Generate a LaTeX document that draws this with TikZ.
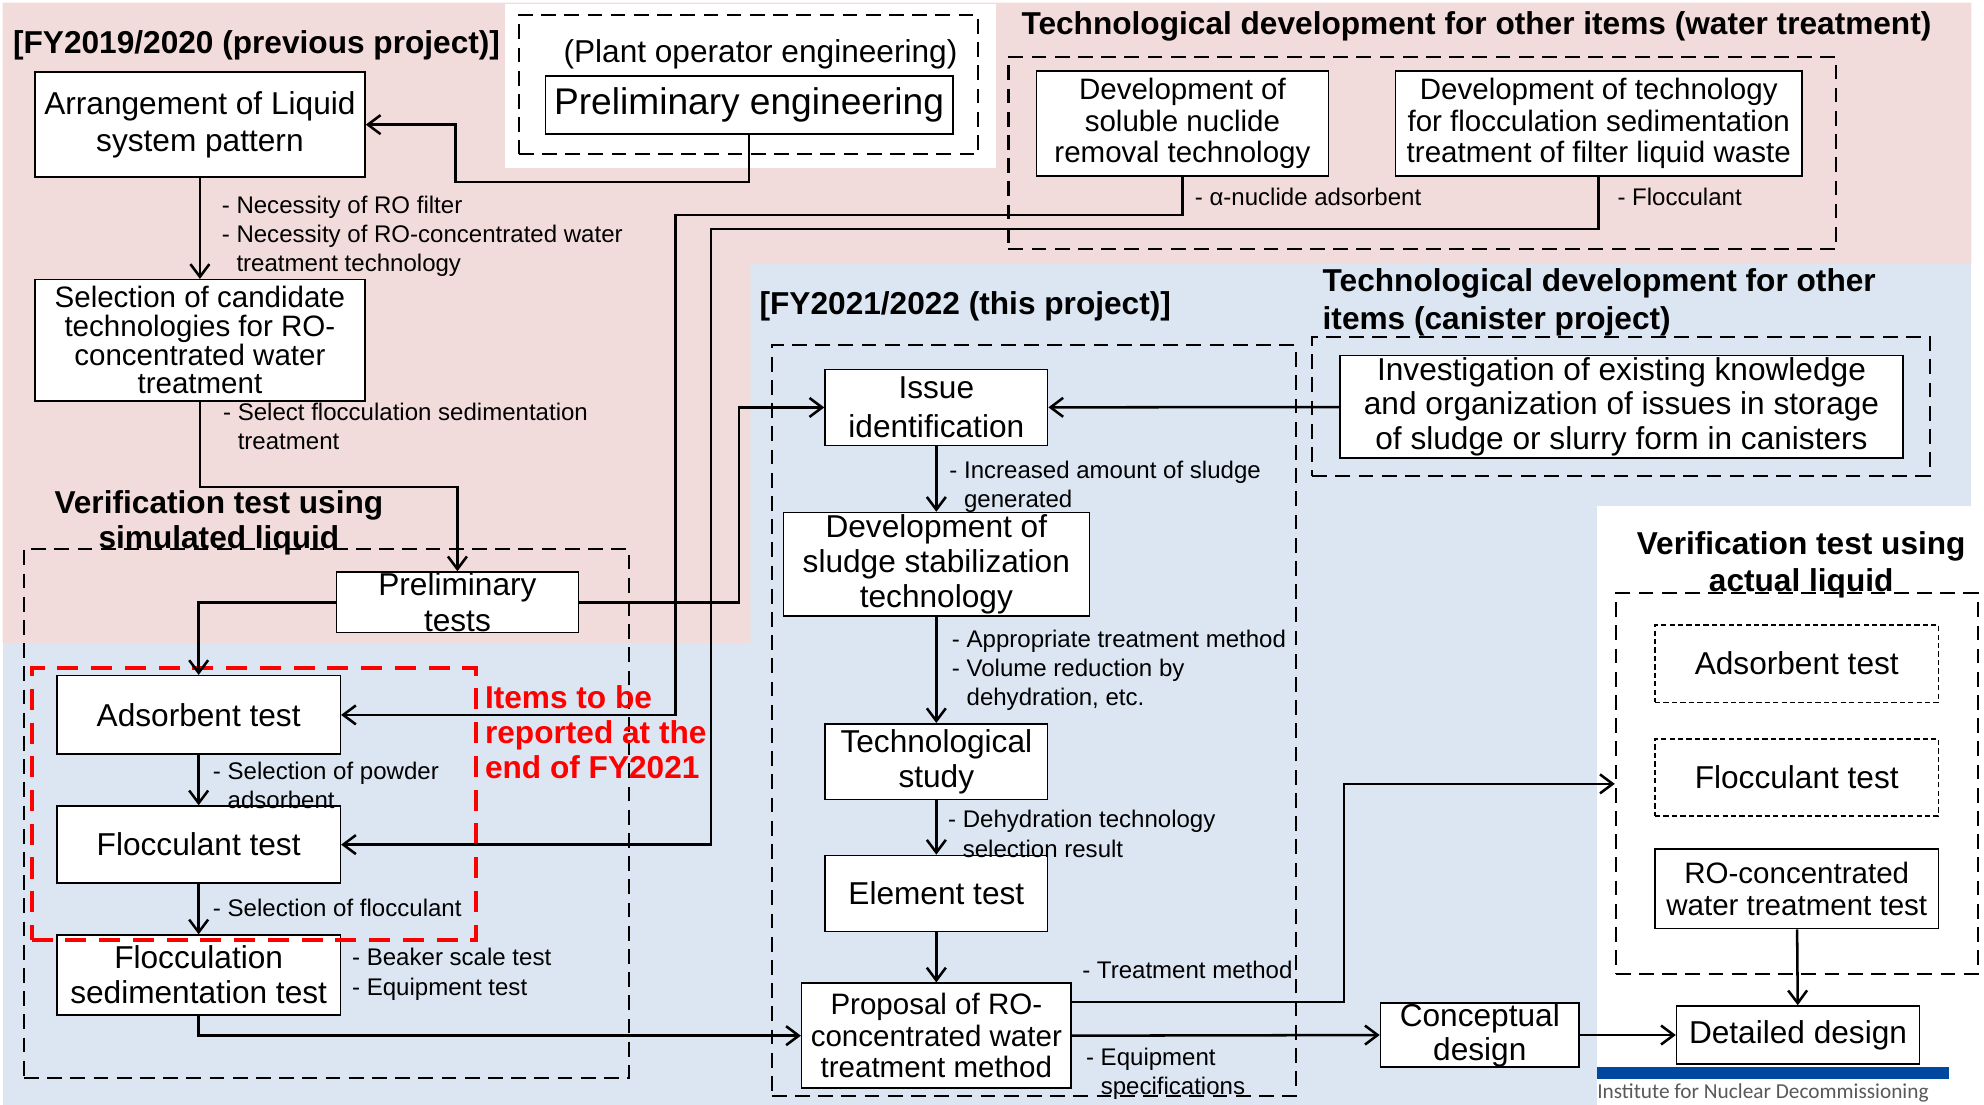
\documentclass[tikz,border=0pt]{standalone}
\usepackage{fontspec}
\setmainfont{Liberation Sans}
\newfontfamily\logofont{Carlito}
\usetikzlibrary{arrows.meta}

\definecolor{pinkbg}{RGB}{242,220,219}
\definecolor{bluebg}{RGB}{220,230,242}
\definecolor{logoblue}{RGB}{0,71,160}

\tikzset{
  box/.style={draw, line width=0.7pt, fill=white, inner sep=0pt, align=center, font=\fontsize{15}{16.8}\selectfont},
  dotbox/.style={box, dash pattern=on 2.5pt off 1.5pt},
  grp/.style={draw, line width=1pt, dash pattern=on 7pt off 4pt, inner sep=0pt},
  redgrp/.style={draw=red, line width=1.8pt, dash pattern=on 10pt off 6pt, inner sep=0pt},
  ann/.style={anchor=west, align=left, inner sep=0pt, yshift=-1.5pt, font=\fontsize{11.4}{13.8}\selectfont},
  ttl/.style={inner sep=0pt, yshift=-1.2pt, font=\bfseries\fontsize{15}{16.8}\selectfont},
  flow/.style={line width=1.2pt, -{Straight Barb[length=6pt,width=9pt]}},
}

\begin{document}
\begin{tikzpicture}[x=0.6pt, y=-0.6pt]
\useasboundingbox (0,0) rectangle (1568,873);

\fill[bluebg] (2,208) rectangle (1558,873);
\fill[pinkbg] (2,2) -- (1558,2) -- (1558,208) -- (593,208) -- (593,508) -- (2,508) -- cycle;
\fill[white] (399,3) rectangle (787,133);
\fill[white] (1262,400) rectangle (1561,873);
\fill[logoblue] (1262,843) rectangle (1540,853);
\node[anchor=west, inner sep=0pt, text=black!65, font=\logofont\fontsize{10.1}{12}\selectfont] (inst) at (1262,864) {Institute for Nuclear Decommissioning};

\node[grp, minimum width=217.8pt, minimum height=66pt] (plantgrp) at (591.5,67) {};
\node[grp, minimum width=392.4pt, minimum height=91.2pt] (watergrp) at (1124,121) {};
\node[grp, minimum width=286.8pt, minimum height=250.8pt] (simgrp) at (258,643) {};
\node[grp, minimum width=248.4pt, minimum height=355.8pt] (thisgrp) at (817,569.5) {};
\node[grp, minimum width=292.8pt, minimum height=66pt] (canigrp) at (1281,321) {};
\node[grp, minimum width=171.6pt, minimum height=180.6pt] (realgrp) at (1420,619.5) {};

\node[ttl, anchor=west] (prevttl) at (10,34) {[FY2019/2020 (previous project)]};
\node[inner sep=0pt, yshift=-1.2pt, font=\fontsize{15}{16.8}\selectfont] (plantlbl) at (601,41) {(Plant operator engineering)};
\node[box, font=\fontsize{17.6}{20}\selectfont, minimum width=193.2pt, minimum height=27.6pt] (prelimeng) at (592,83) {Preliminary engineering};
\node[box, font=\fontsize{15}{17.4}\selectfont, minimum width=156.6pt, minimum height=49.8pt] (arrange) at (158,98.5) {Arrangement of Liquid\\system pattern};
\node[box, font=\fontsize{14}{13.6}\selectfont, minimum width=156.6pt, minimum height=57.6pt] (select) at (158,269) {Selection of candidate\\technologies for RO-\\concentrated water\\treatment};
\node[ttl, align=center] (simttl) at (173,411) {Verification test using\\simulated liquid};
\node[box, font=\fontsize{15}{17.4}\selectfont, minimum width=114.6pt, minimum height=28.8pt] (pretest) at (361.5,476) {Preliminary\\tests};
\node[box, minimum width=134.4pt, minimum height=37.2pt] (adstest) at (157,565) {Adsorbent test};
\node[box, minimum width=134.4pt, minimum height=36.6pt] (floctest) at (157,667.5) {Flocculant test};
\node[box, minimum width=134.4pt, minimum height=37.8pt] (sedtest) at (157,770.5) {Flocculation\\sedimentation test};
\node[redgrp, minimum width=210.6pt, minimum height=129pt] (redbox) at (200.5,635.5) {};
\node[anchor=west, align=left, inner sep=0pt, yshift=-1.2pt, text=red, font=\bfseries\fontsize{15}{16.5}\selectfont] (redttl) at (383,576.5) {Items to be\\reported at the\\end of FY2021};

\node[ttl, anchor=west] (thisttl) at (600,240) {[FY2021/2022 (this project)]};
\node[box, font=\fontsize{15}{18.6}\selectfont, minimum width=105.6pt, minimum height=36pt] (issue) at (740,322) {Issue\\identification};
\node[box, font=\fontsize{15}{16.5}\selectfont, minimum width=145.2pt, minimum height=49.2pt] (sludge) at (740,446) {Development of\\sludge stabilization\\technology};
\node[box, minimum width=105.6pt, minimum height=36pt] (study) at (740,602) {Technological\\study};
\node[box, minimum width=105.6pt, minimum height=36pt] (element) at (740,706) {Element test};
\node[box, font=\fontsize{14}{15}\selectfont, minimum width=127.8pt, minimum height=49.8pt] (proposal) at (740,818.5) {Proposal of RO-\\concentrated water\\treatment method};
\node[box, font=\fontsize{15}{16.2}\selectfont, minimum width=94.2pt, minimum height=27.6pt] (concept) at (1169.5,818) {Conceptual\\design};
\node[box, minimum width=115.2pt, minimum height=27.6pt] (detail) at (1421,818) {Detailed design};

\node[ttl, align=center, font=\bfseries\fontsize{15}{17.4}\selectfont] (realttl) at (1423.5,444.5) {Verification test using\\actual liquid};
\node[dotbox, minimum width=134.4pt, minimum height=36.6pt] (realads) at (1420,524.5) {Adsorbent test};
\node[dotbox, minimum width=134.4pt, minimum height=36.6pt] (realfloc) at (1420,614.5) {Flocculant test};
\node[box, font=\fontsize{14}{15}\selectfont, minimum width=134.4pt, minimum height=37.8pt] (realro) at (1420,702.5) {RO-concentrated\\water treatment test};

\node[ttl, anchor=west] (waterttl) at (807,19) {Technological development for other items (water treatment)};
\node[box, font=\fontsize{14}{15}\selectfont, minimum width=138.6pt, minimum height=49.8pt] (nuclide) at (934.5,97.5) {Development of\\soluble nuclide\\removal technology};
\node[box, font=\fontsize{14}{15}\selectfont, minimum width=192.6pt, minimum height=49.8pt] (flocdev) at (1263.5,97.5) {Development of technology\\for flocculation sedimentation\\treatment of filter liquid waste};
\node[ttl, anchor=west, align=left, font=\bfseries\fontsize{15}{18}\selectfont] (canittl) at (1045,237) {Technological development for other\\items (canister project)};
\node[box, font=\fontsize{15}{16.2}\selectfont, minimum width=267pt, minimum height=48.6pt] (canister) at (1281.5,321.5) {Investigation of existing knowledge\\and organization of issues in storage\\of sludge or slurry form in canisters};

\node[ann] (annro) at (175,184) {- Necessity of RO filter\\- Necessity of RO-concentrated water\\\phantom{- }treatment technology};
\node[ann] (annsel) at (176,334.5) {- Select flocculation sedimentation\\\phantom{- }treatment};
\node[ann] (annpow) at (168,618.5) {- Selection of powder\\\phantom{- }adsorbent};
\node[ann] (annfloc) at (168,715) {- Selection of flocculant};
\node[ann] (annbeak) at (278,767.5) {- Beaker scale test\\- Equipment test};
\node[ann] (annalpha) at (944,153) {- α-nuclide adsorbent};
\node[ann] (annflocc) at (1278,153) {- Flocculant};
\node[ann] (annsludge) at (750,382.5) {- Increased amount of sludge\\\phantom{- }generated};
\node[ann] (annmeth) at (752,527) {- Appropriate treatment method\\- Volume reduction by\\\phantom{- }dehydration, etc.};
\node[ann] (anndehy) at (749,656.5) {- Dehydration technology\\\phantom{- }selection result};
\node[ann] (anntreat) at (855,764) {- Treatment method};
\node[ann] (annequip) at (858,846) {- Equipment\\\phantom{- }specifications};

\coordinate (k1) at (360,144);
\coordinate (k2) at (361.5,385);
\coordinate (k3) at (584,322);
\coordinate (k4) at (534,170);
\coordinate (k5) at (562,181);
\coordinate (k6) at (1062,792);

\draw[flow] (prelimeng.south) |- (k1) |- (arrange.east);
\draw[flow] (arrange.south) -- (select.north);
\draw[flow] (select.south) |- (k2) -- (pretest.north);
\draw[flow] (pretest.west) -| (adstest.north);
\draw[flow] (pretest.east) -| (k3) -- (issue.west);
\draw[flow] (nuclide.south) |- (k4) |- (adstest.east);
\draw[flow] (flocdev.south) |- (k5) |- (floctest.east);
\draw[flow] (adstest) -- (floctest);
\draw[flow] (floctest) -- (sedtest);
\draw[flow] (sedtest.south) |- (proposal.west);
\draw[flow] (canister) -- (issue);
\draw[flow] (issue) -- (sludge);
\draw[flow] (sludge) -- (study);
\draw[flow] (study) -- (element);
\draw[flow] (element) -- (proposal);
\draw[flow] (proposal.east |- k6) -- (k6) |- (realgrp.west);
\draw[flow] (proposal.east) -- (concept.west);
\draw[flow] (concept) -- (detail);
\draw[flow] (realro) -- (detail);
\end{tikzpicture}
\end{document}
